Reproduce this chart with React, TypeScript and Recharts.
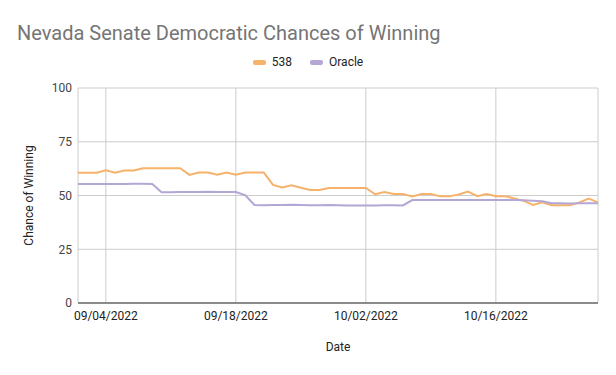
import { LineChart, Line, XAxis, YAxis, CartesianGrid } from 'recharts';

const dates = [
  '09/01/2022', '09/02/2022', '09/03/2022', '09/04/2022', '09/05/2022', '09/06/2022', '09/07/2022',
  '09/08/2022', '09/09/2022', '09/10/2022', '09/11/2022', '09/12/2022', '09/13/2022', '09/14/2022',
  '09/15/2022', '09/16/2022', '09/17/2022', '09/18/2022', '09/19/2022', '09/20/2022', '09/21/2022',
  '09/22/2022', '09/23/2022', '09/24/2022', '09/25/2022', '09/26/2022', '09/27/2022', '09/28/2022',
  '09/29/2022', '09/30/2022', '10/01/2022', '10/02/2022', '10/03/2022', '10/04/2022', '10/05/2022',
  '10/06/2022', '10/07/2022', '10/08/2022', '10/09/2022', '10/10/2022', '10/11/2022', '10/12/2022',
  '10/13/2022', '10/14/2022', '10/15/2022', '10/16/2022', '10/17/2022', '10/18/2022', '10/19/2022',
  '10/20/2022', '10/21/2022', '10/22/2022', '10/23/2022', '10/24/2022', '10/25/2022', '10/26/2022',
  '10/27/2022',
];

const fiveThirtyEight = [
  60.6, 60.6, 60.6, 61.7, 60.6, 61.6, 61.6,
  62.7, 62.7, 62.7, 62.7, 62.7, 59.6, 60.7,
  60.7, 59.7, 60.7, 59.7, 60.7, 60.7, 60.7,
  54.9, 53.7, 54.7, 53.6, 52.6, 52.6, 53.5,
  53.5, 53.5, 53.5, 53.5, 50.6, 51.6, 50.7,
  50.7, 49.6, 50.7, 50.7, 49.6, 49.6, 50.5,
  51.8, 49.7, 50.7, 49.7, 49.7, 48.6, 47.5,
  45.6, 46.8, 45.5, 45.5, 45.5, 46.8, 48.6,
  46.8,
];

const oracle = [
  55.4, 55.4, 55.4, 55.4, 55.3, 55.4, 55.5,
  55.5, 55.4, 51.5, 51.5, 51.6, 51.6, 51.6,
  51.7, 51.6, 51.6, 51.6, 50.2, 45.6, 45.5,
  45.6, 45.6, 45.7, 45.6, 45.5, 45.5, 45.6,
  45.5, 45.4, 45.4, 45.4, 45.4, 45.5, 45.5,
  45.4, 47.9, 47.9, 47.9, 47.9, 47.9, 47.9,
  47.9, 47.9, 47.9, 47.9, 47.9, 47.9, 47.8,
  47.6, 47.3, 46.4, 46.4, 46.3, 46.4, 46.4,
  46.4,
];

const xTicks = ['09/04/2022', '09/18/2022', '10/02/2022', '10/16/2022'];
const yTicks = [0, 25, 50, 75, 100];

const data = dates.map((date, i) => ({
  idx: i,
  date,
  fte: fiveThirtyEight[i],
  oracle: oracle[i],
}));

const FONT = 'Roboto, Arial, sans-serif';
const ORANGE = '#f6b26b';
const PURPLE = '#b4a7d6';

const legendItems = [
  { name: '538', color: ORANGE },
  { name: 'Oracle', color: PURPLE },
];

export default function App() {
  return (
    <div style={{ position: 'absolute', left: 0, top: 0, width: 616, height: 375, background: '#fff' }}>
      <div
        style={{
          position: 'absolute',
          left: 17,
          top: 21,
          fontFamily: FONT,
          fontSize: 20,
          color: '#757575',
          whiteSpace: 'nowrap',
        }}
      >
        Nevada Senate Democratic Chances of Winning
      </div>
      {/* legend sits between the title and the plot */}
      <div
        style={{
          position: 'absolute',
          top: 55,
          left: 0,
          width: 616,
          display: 'flex',
          justifyContent: 'center',
          gap: 18,
          fontFamily: FONT,
          fontSize: 12,
          color: '#222',
        }}
      >
        {legendItems.map((it) => (
          <div key={it.name} style={{ display: 'flex', alignItems: 'center' }}>
            <span style={{ display: 'inline-block', width: 13, height: 5, borderRadius: 2, background: it.color, marginRight: 6 }} />
            <span>{it.name}</span>
          </div>
        ))}
      </div>
      <LineChart width={616} height={375} data={data} margin={{ top: 88, right: 18, bottom: 42, left: 18 }}>
        <CartesianGrid stroke="#cccccc" strokeWidth={1} />
        <XAxis
          dataKey="idx"
          type="number"
          domain={[0, dates.length - 1]}
          ticks={xTicks.map((t) => dates.indexOf(t))}
          tickFormatter={(v: number) => dates[v]}
          axisLine={{ stroke: '#333333' }}
          tickLine={false}
          height={30}
          tick={{ fontSize: 12, fill: '#222', fontFamily: FONT }}
          label={{ value: 'Date', position: 'bottom', offset: 9, style: { fontSize: 12, fill: '#222', fontFamily: FONT } }}
        />
        <YAxis
          domain={[0, 100]}
          ticks={yTicks}
          axisLine={false}
          tickLine={false}
          tickMargin={0}
          width={60}
          tick={{ fontSize: 12, fill: '#444', fontFamily: FONT }}
          label={{
            value: 'Chance of Winning',
            angle: -90,
            position: 'insideLeft',
            offset: 11,
            style: { fontSize: 12, fill: '#222', fontFamily: FONT, textAnchor: 'middle' },
          }}
        />
        <Line type="linear" dataKey="fte" name="538" stroke={ORANGE} strokeWidth={2} dot={false} isAnimationActive={false} />
        <Line type="linear" dataKey="oracle" name="Oracle" stroke={PURPLE} strokeWidth={2} dot={false} isAnimationActive={false} />
      </LineChart>
    </div>
  );
}
